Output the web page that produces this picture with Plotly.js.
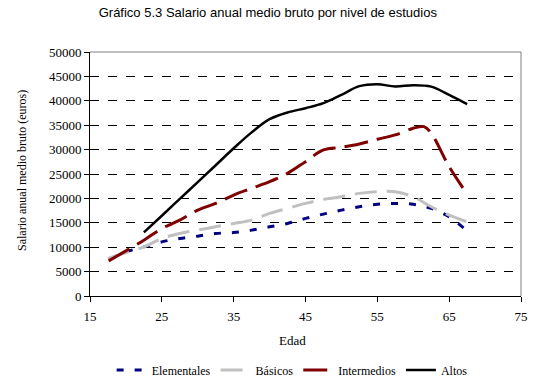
<!DOCTYPE html>
<html>
<head>
<meta charset="utf-8">
<script src="https://cdn.plot.ly/plotly-3.0.1.min.js"></script>
<style>html,body{margin:0;padding:0;background:#fff;}#chart{width:541px;height:383px;}</style>
</head>
<body>
<div id="chart"></div>
<script>
// Ages (x) and salaries (euros) per education level
var agesElem = [17.7, 20, 22.5, 25, 27.5, 30, 32.5, 35, 37.5, 40, 42.5, 45, 47.5, 50, 52.5, 55, 57.5, 60, 62.5, 65, 67.2];
var elementales = [7600, 9040, 10070, 11090, 11790, 12260, 12810, 13010, 13500, 14180, 14870, 15900, 16780, 17600, 18290, 18780, 18980, 18780, 17950, 16230, 13700];

var agesBas = [17.5, 20, 22.5, 25, 27.5, 30, 32.5, 35, 37.5, 40, 42.5, 45, 47.5, 50, 52.5, 55, 57.5, 60, 62.5, 65, 67.5];
var basicos = [7680, 8900, 10070, 11790, 12810, 13500, 14180, 14870, 15550, 16920, 17950, 18980, 19800, 20340, 21030, 21370, 21370, 20340, 18290, 16580, 15200];

var agesInt = [17.6, 20, 22.5, 25, 27.5, 30, 32.5, 35, 37.5, 40, 42.5, 45, 47.5, 50, 52.5, 55, 57.5, 60, 61.5, 62.5, 65, 67.5];
var intermedios = [7190, 9250, 11440, 13840, 15550, 17600, 18980, 20690, 22060, 23420, 25140, 27530, 29930, 30480, 31160, 32130, 33010, 34380, 34700, 33360, 26500, 20890];

var agesAlt = [22.5, 25, 27.5, 30, 32.5, 35, 37.5, 40, 42.5, 45, 47.5, 50, 52.5, 55, 57.5, 60, 62.5, 65, 67.5];
var altos = [13030, 16450, 19900, 23350, 26800, 30270, 33530, 36230, 37600, 38490, 39520, 41230, 43000, 43400, 42930, 43200, 42900, 41200, 39300];

var seriesNames = ["Elementales", "Básicos", "Intermedios", "Altos"];
var xTicks = [15, 25, 35, 45, 55, 65, 75];
var yTicks = [0, 5000, 10000, 15000, 20000, 25000, 30000, 35000, 40000, 45000, 50000];

var serif = "Liberation Serif, Times New Roman, serif";

var traces = [
  {x: agesElem, y: elementales, name: seriesNames[0], mode: "lines",
   line: {color: "#000080", width: 3, dash: "7px,11px", shape: "spline", smoothing: 1}},
  {x: agesBas, y: basicos, name: seriesNames[1], mode: "lines",
   line: {color: "#C0C0C0", width: 3, dash: "22px,10px", shape: "spline", smoothing: 1}},
  {x: agesInt, y: intermedios, name: seriesNames[2], mode: "lines",
   line: {color: "#800000", width: 3, dash: "24px,9px", shape: "spline", smoothing: 1}},
  {x: agesAlt, y: altos, name: seriesNames[3], mode: "lines",
   line: {color: "#000000", width: 2.5, shape: "spline", smoothing: 1}}
];

var layout = {
  width: 541, height: 383,
  margin: {l: 90, r: 20, t: 52, b: 87},
  paper_bgcolor: "#fff", plot_bgcolor: "#fff",
  title: {text: "Gráfico 5.3 Salario anual medio bruto por nivel de estudios",
          font: {family: "Liberation Sans, Arial, sans-serif", size: 13, color: "#000"},
          x: 0.495, xanchor: "center", y: 0.968, yanchor: "middle"},
  xaxis: {range: [15, 75], tickvals: xTicks, showgrid: false, zeroline: false, automargin: false,
          showline: true, linecolor: "#000", linewidth: 1, ticks: "outside", ticklen: 5, tickcolor: "#000",
          ticklabelstandoff: 3,
          tickfont: {family: serif, size: 13, color: "#000"}},
  yaxis: {range: [0, 50000], tickvals: yTicks, tickformat: "d", showgrid: true, gridcolor: "#000", griddash: "dash", gridwidth: 1,
          zeroline: false, showline: true, linecolor: "#000", linewidth: 1, ticks: "outside", ticklen: 5, tickcolor: "#000", automargin: false,
          tickfont: {family: serif, size: 13, color: "#000"}},
  annotations: [
    {text: "Edad", xref: "paper", yref: "paper", x: (292 - 90) / 431, y: -(340 - 296) / 244,
     xanchor: "center", yanchor: "middle", showarrow: false, font: {family: serif, size: 13, color: "#000"}},
    {text: "Salario anual medio bruto (euros)", xref: "paper", yref: "paper", x: (22 - 90) / 431, y: (296 - 171) / 244,
     xanchor: "center", yanchor: "middle", textangle: -90, showarrow: false, font: {family: serif, size: 12, color: "#000"}}
  ],
  shapes: [
    {type: "line", xref: "paper", yref: "paper", x0: 0, x1: 1, y0: 1, y1: 1, line: {color: "#808080", width: 1}},
    {type: "line", xref: "paper", yref: "paper", x0: 1, x1: 1, y0: 0, y1: 1, line: {color: "#808080", width: 1}}
  ],
  showlegend: true,
  legend: {orientation: "h", x: 0.54, xref: "container", xanchor: "center", y: 0.034, yref: "container", yanchor: "middle",
           font: {family: serif, size: 12, color: "#000"}, itemwidth: 30, tracegroupgap: 0}
};

Plotly.newPlot("chart", traces, layout, {displayModeBar: false, staticPlot: true});
</script>
</body>
</html>
